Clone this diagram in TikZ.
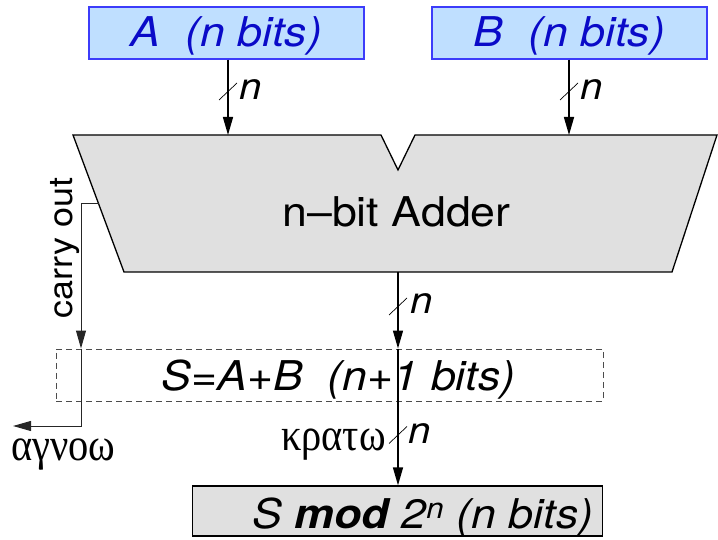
\documentclass[tikz,border=0pt]{standalone}
\usepackage{fontspec}
\setmainfont{TeX Gyre Heros}[FakeStretch=1.09]
\newfontfamily\greekfont{Liberation Serif}[FakeStretch=0.88]
\usepackage{xcolor}
\usetikzlibrary{positioning,arrows.meta,calc}

\definecolor{inblue}{RGB}{191,223,255}
\definecolor{lineblue}{RGB}{60,60,250}
\definecolor{textblue}{RGB}{10,10,200}
\definecolor{addergray}{RGB}{224,224,224}

\newcommand{\bigtxt}{\fontsize{41}{48}\selectfont}
\newcommand{\smalltxt}{\fontsize{37}{42}\selectfont}

\tikzset{
    inbox/.style={draw=lineblue,line width=1.5pt,fill=inblue,text=textblue,minimum width=275pt,minimum height=52pt,inner sep=0pt,text height=28pt,text depth=0pt,font=\bigtxt\itshape},
    bus/.style={line width=1.5pt,-{Triangle[length=18pt,width=10pt]}},
    carry/.style={line width=1pt,draw=black!85,-{Triangle[length=18pt,width=10pt]}},
    busslash/.style={line width=0.7pt},
    buswidth/.style={anchor=base west,inner sep=0pt,font=\smalltxt\itshape}
}

\begin{document}
\begin{tikzpicture}[x=1pt,y=-1pt]
    \useasboundingbox (0,0) rectangle (718,540);

    % inputs
    \node[inbox] (A) at (226.5,33) {A\ \ (n bits)};
    \node[inbox] (B) at (569.5,33) {B\ \ (n bits)};

    % adder body with the notch
    \draw[fill=addergray,line width=1.3pt] (73,135) -- (381,135) -- (398,170) -- (415,135) -- (717,135) -- (672,272) -- (124,272) -- cycle;
    \node[anchor=base,inner sep=0pt,font=\bigtxt] (adder) at (396.5,227) {n--bit Adder};
    \coordinate (inA) at (228,135);
    \coordinate (inB) at (569,135);
    \coordinate (outS) at (398,272);
    \coordinate (cyout) at (98.7,204);

    % sum and result
    \node[draw=black!70,dash pattern=on 6pt off 4pt,line width=1pt,minimum width=547pt,minimum height=52pt,inner sep=0pt] (sum) at (329.5,375) {};
    \node[anchor=base,inner sep=0pt,font=\bigtxt\itshape] (sumtxt) at (338.5,390) {S=A+B\ \ (n+1 bits)};
    \node[draw,line width=1.3pt,fill=addergray,minimum width=410pt,minimum height=50pt,inner sep=0pt] (res) at (397.5,511) {};
    \node[anchor=base,inner sep=0pt,font=\bigtxt\itshape] (restxt) at (423,528) {S \textbf{mod} 2\textsuperscript{n} (n bits)};

    % connections
    \draw[bus] (A.south -| inA) -- (inA);
    \draw[bus] (B.south -| inB) -- (inB);
    \draw[bus] (outS) -- (sum.north -| outS);
    \draw[bus] (sum.north -| outS) -- (res.north -| outS);

    % bus widths
    \coordinate (slA) at (228,91.5);
    \coordinate (slB) at (569,91.5);
    \coordinate (slS) at (398,306.5);
    \coordinate (slR) at (398,435);
    \foreach \s in {slA,slB,slS,slR}
        \draw[busslash] ([xshift=-9pt,yshift=-8.5pt]\s) -- ([xshift=9pt,yshift=8.5pt]\s);
    \node[buswidth] at (239,100) {n};
    \node[buswidth] at (580,100) {n};
    \node[buswidth] at (410,313) {n};
    \node[buswidth] at (408,443) {n};

    % carry out
    \coordinate (cyturn) at (81,426);
    \coordinate (cyend) at (13,426);
    \draw[carry] (cyout) -| (sum.north -| cyturn);
    \draw[carry] (sum.north -| cyturn) -- (cyturn) -- (cyend);
    \node[rotate=90,inner sep=0pt,font=\fontsize{33}{38}\selectfont] (cylabel) at (65,248) {carry out};

    \node[anchor=base west,inner sep=0pt,font=\fontsize{46}{52}\greekfont] (ignore) at (11,460) {αγνοω};
    \node[anchor=base east,inner sep=0pt,font=\fontsize{46}{52}\greekfont] (keep) at (386,450) {κρατω};
\end{tikzpicture}
\end{document}
